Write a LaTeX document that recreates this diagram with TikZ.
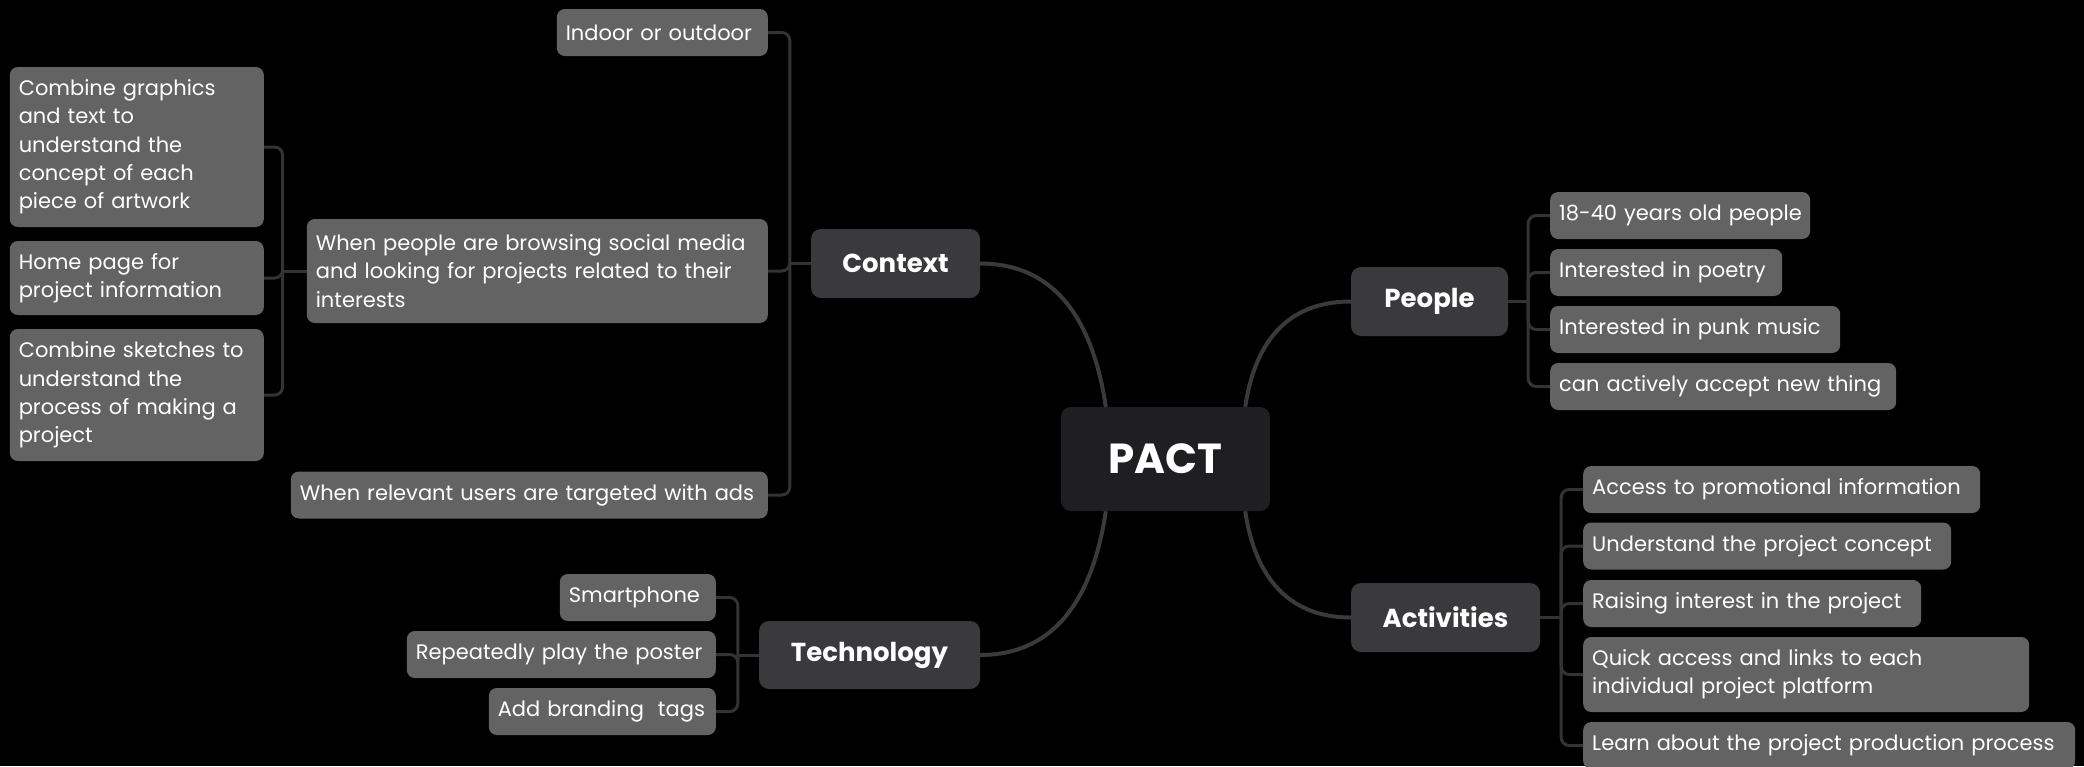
\documentclass[tikz,border=0pt]{standalone}
\usepackage{fontspec}
\setmainfont[Numbers=Proportional]{Poppins}
\definecolor{leafgray}{HTML}{636363}
\definecolor{topicgray}{HTML}{3A3A3C}
\definecolor{rootgray}{HTML}{1F1F21}
\definecolor{linkgray}{HTML}{333333}
\definecolor{branchgray}{HTML}{3A3A3A}
\hyphenpenalty=10000
\exhyphenpenalty=10000
\begin{document}
\begin{tikzpicture}[x=1pt,y=-1pt,
  leaf/.style={fill=leafgray, text=white, rounded corners=8pt, inner xsep=9pt,
    inner ysep=0pt, align=left, minimum height=47pt,
    font=\fontsize{21}{28.3}\selectfont},
  topic/.style={fill=topicgray, text=white, rounded corners=10pt, inner sep=0pt,
    font=\fontsize{26}{30}\selectfont\bfseries},
  root/.style={fill=rootgray, text=white, rounded corners=10pt, inner sep=0pt,
    minimum width=209pt, minimum height=104pt,
    font=\fontsize{42}{46}\selectfont\bfseries},
  link/.style={draw=linkgray, line width=3pt, rounded corners=8pt},
  branch/.style={draw=branchgray, line width=4pt}]

\useasboundingbox (0,0) rectangle (2084,766);
\fill[black] (0,0) rectangle (2084,766);
\clip (0,0) rectangle (2084,766);

% central topic and main branches
\node[root] (pact) at (1165.5,459) {PACT};
\node[topic, minimum width=169pt, minimum height=69pt] (ctx) at (895.5,263.5) {Context};
\node[topic, minimum width=221pt, minimum height=68pt] (tech) at (869.5,655) {Technology};
\node[topic, minimum width=157pt, minimum height=69pt] (people) at (1429.5,301.5) {People};
\node[topic, minimum width=189pt, minimum height=69pt] (act) at (1445.5,617.5) {Activities};

% Context
\node[leaf, anchor=east, text width=193pt] (c1) at (768,32.5) {Indoor or outdoor};
\node[leaf, anchor=east, text width=443pt, minimum height=104pt] (c2) at (768,271)
  {When people are browsing social media\\and looking for projects related to their\\interests};
\node[leaf, anchor=east, text width=459pt] (c3) at (768,495) {When relevant users are targeted with ads};

\node[leaf, anchor=east, text width=236pt, minimum height=160pt] (g1) at (264,147)
  {Combine graphics\\and text to\\understand the\\concept of each\\piece of artwork};
\node[leaf, anchor=east, text width=236pt, minimum height=74pt] (g2) at (264,278)
  {Home page for\\project information};
\node[leaf, anchor=east, text width=236pt, minimum height=132pt] (g3) at (264,395)
  {Combine sketches to\\understand the\\process of making a\\project};

% Technology
\node[leaf, anchor=east, text width=138pt] (t1) at (716,597.5) {Smartphone};
\node[leaf, anchor=east, text width=291pt] (t2) at (716,654.5) {Repeatedly play the poster};
\node[leaf, anchor=east, text width=209pt] (t3) at (716,711.5) {Add branding\ \ tags};

% People
\node[leaf, anchor=west, text width=242pt] (p1) at (1550,215.5) {\mbox{18-40 years old people}};
\node[leaf, anchor=west, text width=214pt] (p2) at (1550,272.5) {Interested in poetry};
\node[leaf, anchor=west, text width=272pt] (p3) at (1550,329.5) {Interested in punk music};
\node[leaf, anchor=west, text width=328pt] (p4) at (1550,386.5) {can actively accept new thing};

% Activities
\node[leaf, anchor=west, text width=379pt] (a1) at (1583,489.5) {Access to promotional information};
\node[leaf, anchor=west, text width=350pt] (a2) at (1583,546) {Understand the project concept};
\node[leaf, anchor=west, text width=320pt] (a3) at (1583,603.5) {Raising interest in the project};
\node[leaf, anchor=west, text width=428pt, minimum height=75pt] (a4) at (1583,674.5)
  {Quick access and links to each\\individual project platform};
\node[leaf, anchor=west, text width=474pt] (a5) at (1583,745.5) {Learn about the project production process};

% curved branches from the centre
\draw[branch] ([xshift=45pt]pact.north west) .. controls +(-16,-107) and +(60,0) .. (ctx.east);
\draw[branch] ([xshift=45pt]pact.south west) .. controls +(-16,107) and +(60,0) .. (tech.east);
\draw[branch] ([xshift=-25pt]pact.north east) .. controls +(12,-80) and +(-50,0) .. (people.west);
\draw[branch] ([xshift=-25pt]pact.south east) .. controls +(12,80) and +(-50,0) .. (act.west);

% brackets to the leaves
\draw[link] (ctx.west) -- ++(-21,0) coordinate (cj);
\foreach \n in {c1,c2,c3} \draw[link] (cj) |- (\n.east);

\draw[link] (c2.west) -- ++(-24,0) coordinate (gj);
\foreach \n in {g1,g2,g3} \draw[link] (gj) |- (\n.east);

\draw[link] (tech.west) -- ++(-21,0) coordinate (tj);
\foreach \n in {t1,t2,t3} \draw[link] (tj) |- (\n.east);

\draw[link] (people.east) -- ++(20,0) coordinate (pj);
\foreach \n in {p1,p2,p3,p4} \draw[link] (pj) |- (\n.west);

\draw[link] (act.east) -- ++(21,0) coordinate (aj);
\foreach \n in {a1,a2,a3,a4,a5} \draw[link] (aj) |- (\n.west);
\end{tikzpicture}
\end{document}
